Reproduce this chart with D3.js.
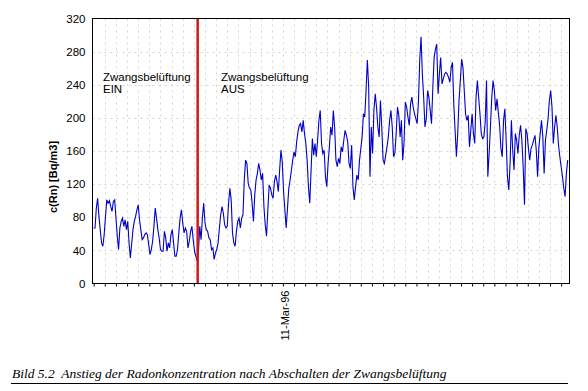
<!DOCTYPE html>
<html>
<head>
<meta charset="utf-8">
<script src="https://cdn.jsdelivr.net/npm/d3@7"></script>
<style>
body { margin: 0; background: #fff; }
svg { display: block; }
text { font-family: Arial, "Liberation Sans", sans-serif; }
</style>
</head>
<body>
<div id="chart"></div>
<script>
var part1 = [67,67,91,103,81,65,49,45,59,81,101,97,100,93,87,99,101,79,57,41,67,75,79,69,77,65,75,49,31,48,65,75,81,89,95,77,65,53,55,59,61,59,47,35,41,51,69,91,79,65,55,41,39,39,63,55,39,49,43,59,65,49,33,33,41,61,79,89,73,61,67,63,43,51,63,69,53,39,33,27,39,69,53,79,97,73,65,63,55];
var part2 = [53,41,43,29,37,41,49,67,83,93,85,71,67,69,97,115,101,61,49,45,63,75,79,67,79,83,125,149,145,121,115,113,97,75,107,125,133,145,137,125,133,93,71,57,89,119,115,107,103,123,131,123,111,137,161,147,111,89,67,91,115,125,137,149,159,153,171,183,191,193,183,197,181,169,149,117,97,136,175,155,169,153,173,197,209];
var part3 = [169,157,161,129,117,145,165,189,179,209,189,149,141,151,145,165,159,173,185,179,171,145,139,167,117,101,117,131,125,149,163,177,205,201,233,270,237,129,189,157,209,229,213,189,177,221,189,149,145,155,165,177,197,209,189,153,157,181,213,203,177,197,149];
var part4 = [170,219,213,201,191,217,225,213,205,199,193,219,270,298,253,225,189,199,233,225,209,193,237,273,283,289,229,253,273,241,247,253,255,253,249,243,261,267,217,185,153,181,221,245,271,261,233,205,197,203,165,185,205,181,169,225,245,225,205,181,175];
var part5 = [177,195,245,129,157,189,225,245,233,209,223,207,191,163,153,197,211,173,129,113,145,197,161,137,181,173,157,179,191,173,141,95,187,181,163,149,163,167,173,179,161,129,165,181,197,177,133,173,185,199,221,233,213,169,189,203,189,167,153,141,129,115,105,133,149];

var radon = part1.concat(part2, part3, part4, part5);

var yTicks = [0, 40, 80, 120, 160, 200, 240, 280, 320];
var dateTickIndex = [146];
var dateTickLabels = ['11-Mar-96'];
var switchIndex = 79.4;   //Zwangsbelüftung abgeschaltet
var gridEvery = 8.5;      //measurements between vertical grid lines

//SET UP SVG
var width = 588,
    height = 391;

var svg = d3.select('#chart').append('svg')
    .attr('width', width)
    .attr('height', height);

var plot = {left: 92.5, right: 569.5, top: 18.5, bottom: 283.5};

var x = d3.scaleLinear()
    .domain([0, radon.length - 1])
    .range([93.7, 567.7]);

var y = d3.scaleLinear()
    .domain([0, 320])
    .range([plot.bottom, plot.top]);

//grid
var gridX = d3.range(0, radon.length, gridEvery);

svg.append('g')
    .selectAll('line')
    .data(yTicks.slice(1, -1))
  .enter().append('line')
    .attr('x1', plot.left)
    .attr('x2', plot.right)
    .attr('y1', function(d) { return Math.round(y(d)) + 0.5; })
    .attr('y2', function(d) { return Math.round(y(d)) + 0.5; })
    .style('stroke', '#d4d4d4')
    .style('stroke-dasharray', '2,4');

svg.append('g')
    .selectAll('line')
    .data(gridX.slice(1))
  .enter().append('line')
    .attr('x1', function(d) { return Math.round(x(d)) + 0.5; })
    .attr('x2', function(d) { return Math.round(x(d)) + 0.5; })
    .attr('y1', plot.top)
    .attr('y2', plot.bottom)
    .style('stroke', '#d4d4d4')
    .style('stroke-dasharray', '2,4');

//axes
var yAxis = d3.axisLeft(y)
    .tickValues(yTicks)
    .tickSize(0)
    .tickPadding(7);

svg.append('g')
    .attr('transform', 'translate(' + plot.left + ',0)')
    .call(yAxis)
    .call(function(g) { g.select('.domain').remove(); })
    .selectAll('text')
    .style('font-size', '11.5px')
    .style('fill', '#000');

var xAxis = d3.axisBottom(x)
    .tickValues(gridX)
    .tickSize(3)
    .tickFormat('');

svg.append('g')
    .attr('transform', 'translate(0,' + plot.bottom + ')')
    .call(xAxis)
    .call(function(g) { g.select('.domain').remove(); })
    .selectAll('line')
    .style('stroke', '#000');

//date label
svg.selectAll('.date-label')
    .data(dateTickIndex)
  .enter().append('text')
    .attr('class', 'date-label')
    .attr('transform', function(d) { return 'translate(' + (x(d) + 4) + ',' + (plot.bottom + 7) + ') rotate(-90)'; })
    .attr('text-anchor', 'end')
    .style('font-size', '11px')
    .text(function(d, i) { return dateTickLabels[i]; });

//data line
var line = d3.line()
    .x(function(d, i) { return x(i); })
    .y(function(d) { return y(d); });

svg.append('path')
    .datum(radon)
    .attr('d', line)
    .style('fill', 'none')
    .style('stroke', '#0000c8')
    .style('stroke-width', 1.1);

//switch-off marker
svg.append('line')
    .attr('x1', x(switchIndex))
    .attr('x2', x(switchIndex))
    .attr('y1', plot.top)
    .attr('y2', plot.bottom)
    .style('stroke', '#d01818')
    .style('stroke-width', 2.5);

//plot frame
svg.append('rect')
    .attr('x', plot.left)
    .attr('y', plot.top)
    .attr('width', plot.right - plot.left)
    .attr('height', plot.bottom - plot.top)
    .style('fill', 'none')
    .style('stroke', '#000');

//annotations
var notes = [
    {x: 103, lines: ['Zwangsbelüftung', 'EIN']},
    {x: 221, lines: ['Zwangsbelüftung', 'AUS']}
];

notes.forEach(function(n) {
    n.lines.forEach(function(t, i) {
        svg.append('text')
            .attr('x', n.x)
            .attr('y', 81 + i * 12)
            .style('font-size', '11.5px')
            .text(t);
    });
});

//y label
svg.append('text')
    .attr('transform', 'translate(57,177) rotate(-90)')
    .attr('text-anchor', 'middle')
    .style('font-size', '11px')
    .style('font-weight', 'bold')
    .text('c(Rn) [Bq/m3]');

//caption
svg.append('text')
    .attr('x', 12)
    .attr('y', 378)
    .attr('xml:space', 'preserve')
    .style('white-space', 'pre')
    .style('font-family', '"Liberation Serif", "Times New Roman", serif')
    .style('font-style', 'italic')
    .style('font-size', '13.5px')
    .text('Bild 5.2  Anstieg der Radonkonzentration nach Abschalten der Zwangsbelüftung');

svg.append('line')
    .attr('x1', 11)
    .attr('x2', 568)
    .attr('y1', 383.5)
    .attr('y2', 383.5)
    .style('stroke', '#000');
</script>
</body>
</html>
